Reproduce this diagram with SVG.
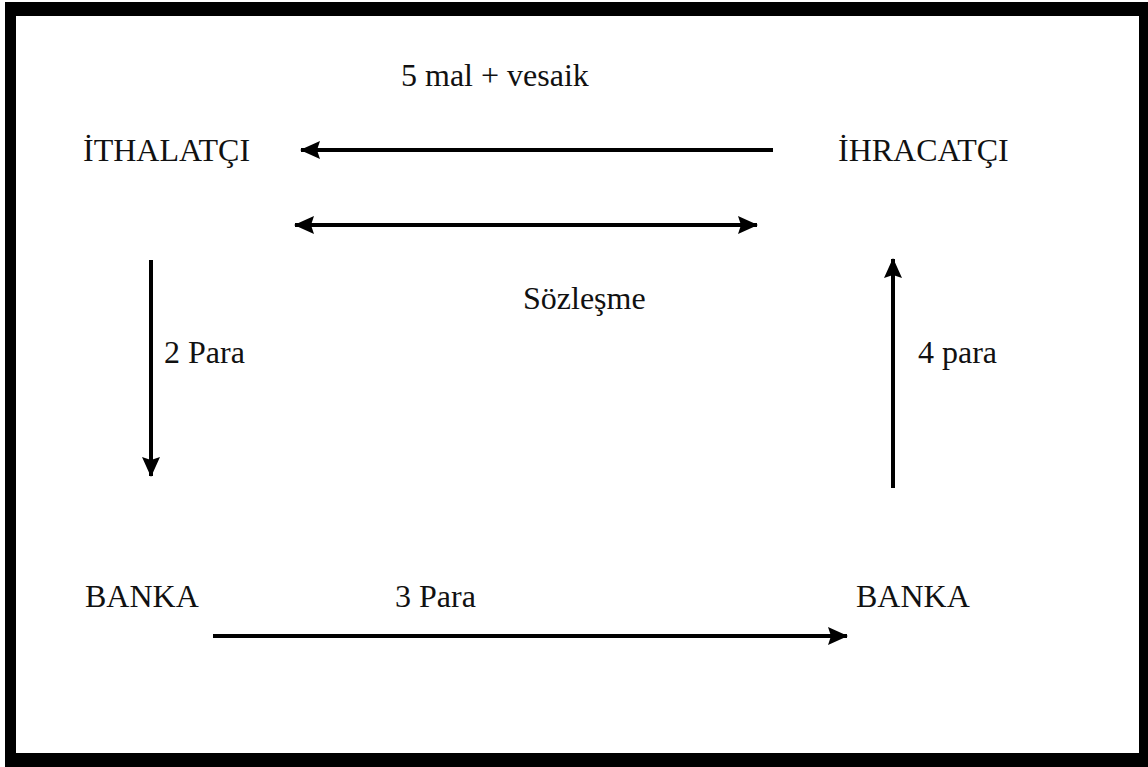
<svg xmlns="http://www.w3.org/2000/svg" width="1148" height="767" viewBox="0 0 1148 767">
<defs>
<style>
.t{font-family:"Liberation Serif","Times New Roman",serif;font-size:32px;fill:#111}
.c{stroke:#000;stroke-width:4;fill:none}
</style>
<marker id="ah" viewBox="0 0 20 18" refX="19" refY="9" markerWidth="20" markerHeight="18" markerUnits="userSpaceOnUse" orient="auto-start-reverse">
<path d="M0,0 L20,9 L0,18 L3,9 Z" fill="#000"/>
</marker>
</defs>
<rect x="0" y="0" width="1148" height="767" fill="#fff"/>
<path d="M5,2 H1148 V767 H5 Z M16,16 V753 H1139 V16 Z" fill="#000" fill-rule="evenodd"/>
<g id="ithalatci"><text class="t" x="83" y="161">İTHALATÇI</text></g>
<g id="ihracatci"><text class="t" x="838" y="161">İHRACATÇI</text></g>
<g id="banka1"><text class="t" x="85" y="607">BANKA</text></g>
<g id="banka2"><text class="t" x="856" y="607">BANKA</text></g>
<g id="connectors">
<line class="c" x1="773" y1="150" x2="301" y2="150" marker-end="url(#ah)"/>
<line class="c" x1="295" y1="225" x2="757" y2="225" marker-start="url(#ah)" marker-end="url(#ah)"/>
<line class="c" x1="151" y1="260" x2="151" y2="476" marker-end="url(#ah)"/>
<line class="c" x1="893" y1="488" x2="893" y2="259" marker-end="url(#ah)"/>
<line class="c" x1="213" y1="636" x2="847" y2="636" marker-end="url(#ah)"/>
<text class="t" x="401" y="86">5 mal + vesaik</text>
<text class="t" x="523" y="309">Sözleşme</text>
<text class="t" x="164" y="363">2 Para</text>
<text class="t" x="918" y="363">4 para</text>
<text class="t" x="395" y="607">3 Para</text>
</g>
</svg>
